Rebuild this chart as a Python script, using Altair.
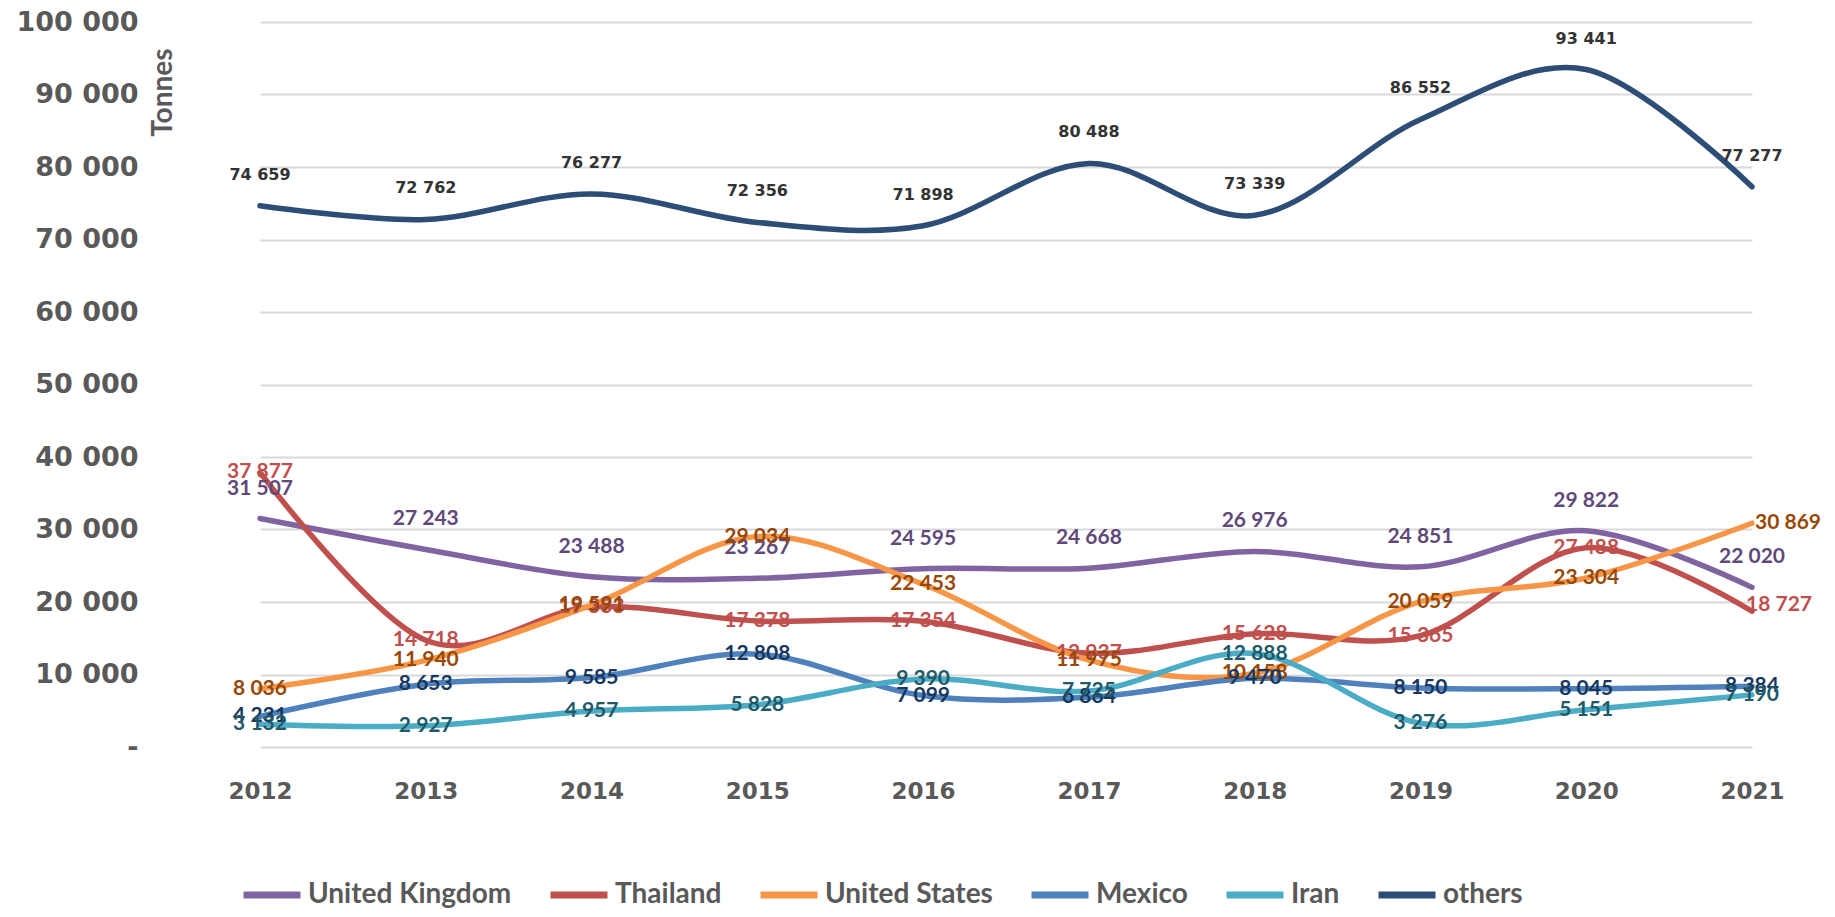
import altair as alt
import pandas as pd

years = ["2012", "2013", "2014", "2015", "2016", "2017", "2018", "2019", "2020", "2021"]
series_names = ["United Kingdom", "Thailand", "United States", "Mexico", "Iran", "others"]

uk = [31507, 27243, 23488, 23267, 24595, 24668, 26976, 24851, 29822, 22020]
thailand = [37877, 14718, 19333, 17378, 17354, 12937, 15628, 15365, 27488, 18727]
us = [8036, 11940, 19591, 29034, 22453, 11975, 10158, 20059, 23304, 30869]
mexico = [4231, 8653, 9585, 12808, 7099, 6864, 9470, 8150, 8045, 8384]
iran = [3132, 2927, 4957, 5828, 9390, 7725, 12888, 3276, 5151, 7190]
others = [74659, 72762, 76277, 72356, 71898, 80488, 73339, 86552, 93441, 77277]

line_colors = ["#8064A2", "#C0504D", "#F79646", "#4F81BD", "#4BACC6", "#2C4D75"]
label_colors = ["#5F497A", "#C0504D", "#984807", "#17375E", "#215968", "#333333"]
label_dy = [-30, 0, 0, 0, 0, -31]

rows = []
for name, vals in zip(series_names, [uk, thailand, us, mexico, iran, others]):
    for yr, v in zip(years, vals):
        rows.append({"year": yr, "series": name, "value": v,
                     "label": f"{v:,}".replace(",", " ")})
df = pd.DataFrame(rows)

x_enc = alt.X("year:O",
              scale=alt.Scale(type="point", range=[82, 1574], padding=0),
              axis=alt.Axis(title=None, labelAngle=0, domain=False, ticks=False, grid=False,
                            labelFont="DejaVu Sans", labelFontWeight="bold", labelFontSize=23,
                            labelColor="#595959", labelPadding=33))
y_enc = alt.Y("value:Q",
              scale=alt.Scale(domain=[0, 100000], nice=False, zero=True),
              axis=alt.Axis(title="Tonnes", values=list(range(0, 100001, 10000)),
                            labelExpr="datum.value == 0 ? '-\u2007' : replace(format(datum.value, ','), ',', ' ')",
                            domain=False, ticks=False, grid=True, gridColor="#D9D9D9", gridWidth=2,
                            labelFont="DejaVu Sans", labelFontWeight="bold", labelFontSize=27,
                            labelColor="#595959", labelPadding=40,
                            titleFont="Lato", titleFontWeight="bold", titleFontSize=28,
                            titleColor="#595959", titleAngle=270, titleAlign="right",
                            titleBaseline="alphabetic", titleX=-7, titleY=26))

base = alt.Chart(df)

lines = base.mark_line(interpolate="cardinal", strokeWidth=5.5, strokeCap="round",
                       strokeJoin="round").encode(
    x=x_enc,
    y=y_enc,
    color=alt.Color("series:N", sort=series_names,
                    scale=alt.Scale(domain=series_names, range=line_colors),
                    legend=alt.Legend(title=None, orient="none", direction="horizontal",
                                      legendX=62, legendY=841,
                                      symbolType="stroke", symbolSize=3249, symbolStrokeWidth=7,
                                      labelFont="Lato", labelFontWeight="bold",
                                      labelFontSize=28, labelColor="#595959", labelOffset=4,
                                      columnPadding=24, padding=0, labelLimit=400)),
)

layers = [lines]
for name, col, dy in zip(series_names, label_colors, label_dy):
    if name == "others":
        font, size = "DejaVu Sans", 16
    else:
        font, size = "Lato", 21
    if name in ("Thailand", "United States"):
        flt = (alt.datum.series == name) & (alt.datum.year != "2021")
        right = base.transform_filter((alt.datum.series == name) & (alt.datum.year == "2021")).mark_text(
            font=font, fontSize=size, fontWeight="bold", color=col, align="left",
            dx=-6 if name == "Thailand" else 3,
            dy=-6 if name == "Thailand" else 0, baseline="middle").encode(x=x_enc, y=y_enc, text="label:N")
    else:
        flt = alt.datum.series == name
        right = None
    txt = base.transform_filter(flt).mark_text(
        font=font, fontSize=size, fontWeight="bold", color=col, dy=dy, baseline="middle"
    ).encode(x=x_enc, y=y_enc, text="label:N")
    layers.append(txt)
    if right is not None:
        layers.append(right)

chart = alt.layer(*layers).properties(
    width=1630, height=725,
    autosize=alt.AutoSizeParams(type="none"),
    padding={"left": 170, "top": 14, "right": 16, "bottom": 162},
).configure(background="white").configure_view(stroke=None)

chart.save("out.html", embed_options={"renderer": "svg", "actions": False})
